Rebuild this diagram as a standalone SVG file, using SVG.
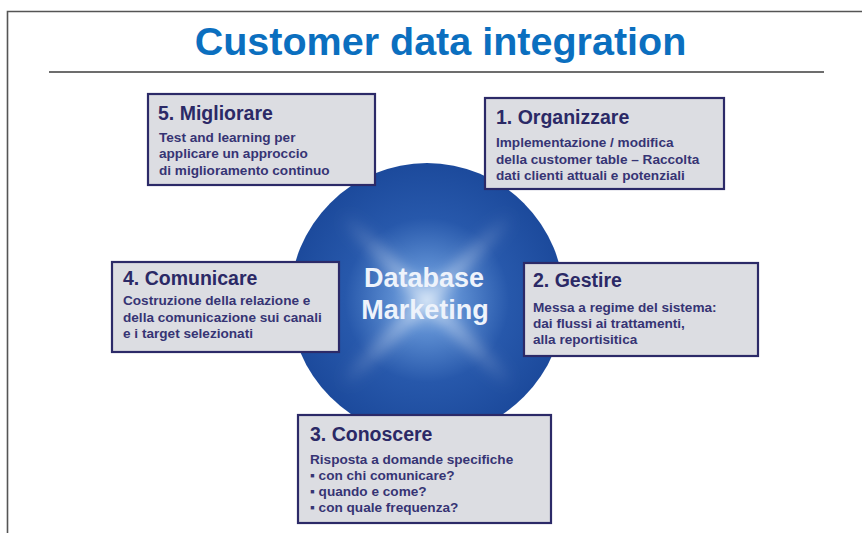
<svg xmlns="http://www.w3.org/2000/svg" width="862" height="533" viewBox="0 0 862 533">
  <style>
    .frame { fill: none; stroke: #555; stroke-width: 1.6; }
    .rule { stroke: #3c3c3c; stroke-width: 1.4; }
    .title { font-family: "Liberation Sans", Arial, sans-serif; font-weight: bold; font-size: 39.5px; fill: #0b6fbf; }
    .box { fill: #dcdde2; stroke: #2c2a68; stroke-width: 2.2; }
    .head { font-family: "Liberation Sans", Arial, sans-serif; font-weight: bold; font-size: 19.5px; fill: #2b2966; }
    .body { font-family: "Liberation Sans", Arial, sans-serif; font-weight: bold; font-size: 13.6px; fill: #363474; }
    .hub { font-family: "Liberation Sans", Arial, sans-serif; font-weight: bold; font-size: 27px; fill: #eef3fb; text-anchor: middle; }
  </style>
  <defs>
    <radialGradient id="hubFill" cx="0.5" cy="0.5" r="0.5">
      <stop offset="0" stop-color="#9dc0ea"/>
      <stop offset="0.25" stop-color="#5a8bd0"/>
      <stop offset="0.6" stop-color="#2758ab"/>
      <stop offset="1" stop-color="#1c4a9c"/>
    </radialGradient>
    <radialGradient id="rayFade" gradientUnits="userSpaceOnUse" cx="427" cy="300" r="120">
      <stop offset="0" stop-color="#ffffff" stop-opacity="0.6"/>
      <stop offset="1" stop-color="#ffffff" stop-opacity="0"/>
    </radialGradient>
    <clipPath id="hubClip">
      <circle cx="427" cy="300" r="137"/>
    </clipPath>
    <filter id="soft" x="-50%" y="-50%" width="200%" height="200%">
      <feGaussianBlur stdDeviation="7"/>
    </filter>
  </defs>

  <!-- page frame and heading -->
  <path class="frame" d="M7.5 533 V11.5 H862"/>
  <text class="title" x="440.5" y="55" text-anchor="middle">Customer data integration</text>
  <line class="rule" x1="49" y1="72" x2="824" y2="72"/>

  <!-- central hub with a soft cross-shaped glow -->
  <g id="hub">
    <circle cx="427" cy="300" r="137" fill="url(#hubFill)"/>
    <g clip-path="url(#hubClip)" filter="url(#soft)">
      <path d="M340 213 L514 387 M514 213 L340 387" stroke="url(#rayFade)" stroke-width="12" fill="none"/>
    </g>
    <text class="hub" x="424" y="287">Database</text>
    <text class="hub" x="425" y="319">Marketing</text>
  </g>

  <!-- step boxes -->
  <g id="step5">
    <rect class="box" x="148" y="94" width="227" height="91"/>
    <text class="head" x="158" y="120">5. Migliorare</text>
    <text class="body" x="159" y="142">Test and learning per</text>
    <text class="body" x="159" y="158">applicare un approccio</text>
    <text class="body" x="159" y="174.5">di miglioramento continuo</text>
  </g>

  <g id="step1">
    <rect class="box" x="485" y="98" width="239" height="91"/>
    <text class="head" x="496" y="124">1. Organizzare</text>
    <text class="body" x="496" y="147">Implementazione / modifica</text>
    <text class="body" x="496" y="164">della customer table – Raccolta</text>
    <text class="body" x="496" y="180">dati clienti attuali e potenziali</text>
  </g>

  <g id="step4">
    <rect class="box" x="112" y="262" width="227" height="90"/>
    <text class="head" x="123" y="285">4. Comunicare</text>
    <text class="body" x="123" y="305">Costruzione della relazione e</text>
    <text class="body" x="123" y="321.5">della comunicazione sui canali</text>
    <text class="body" x="123" y="338">e i target selezionati</text>
  </g>

  <g id="step2">
    <rect class="box" x="524" y="263" width="234" height="93"/>
    <text class="head" x="533" y="287">2. Gestire</text>
    <text class="body" x="533" y="312">Messa a regime del sistema:</text>
    <text class="body" x="533" y="328">dai flussi ai trattamenti,</text>
    <text class="body" x="533" y="344">alla reportisitica</text>
  </g>

  <g id="step3">
    <rect class="box" x="298" y="415" width="253" height="108"/>
    <text class="head" x="310" y="441">3. Conoscere</text>
    <text class="body" x="310" y="464">Risposta a domande specifiche</text>
    <text class="body" x="310" y="480">▪ con chi comunicare?</text>
    <text class="body" x="310" y="496">▪ quando e come?</text>
    <text class="body" x="310" y="511.5">▪ con quale frequenza?</text>
  </g>

  <!-- no connectors between nodes -->
  <g id="connectors"/>
</svg>
